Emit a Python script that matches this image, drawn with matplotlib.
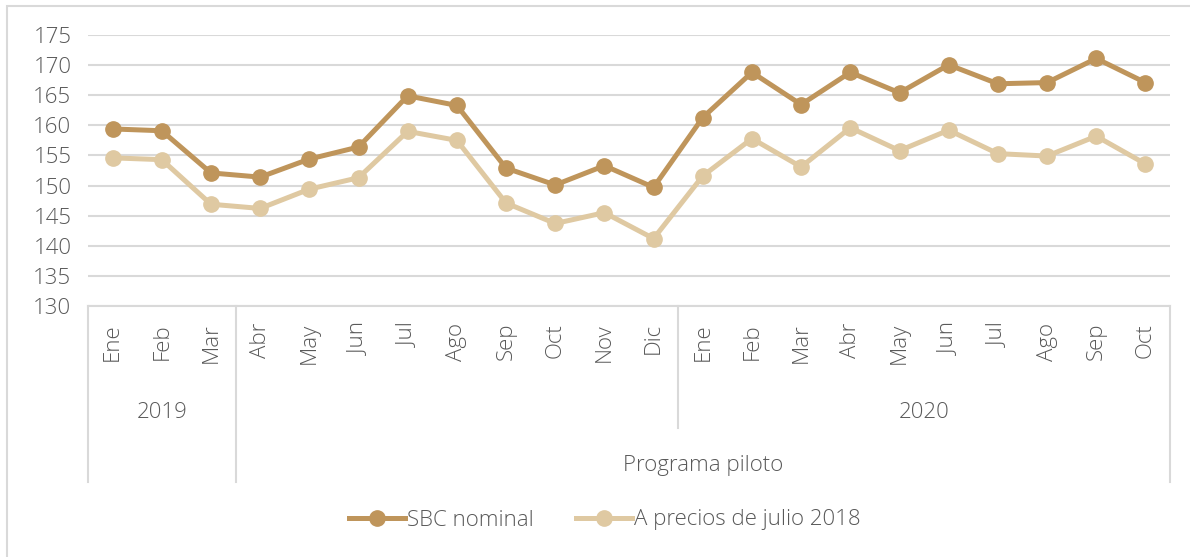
import matplotlib.pyplot as plt
import matplotlib.patches as mpatches
import numpy as np

plt.rcParams['font.family'] = ['Open Sans', 'DejaVu Sans']
plt.rcParams['font.weight'] = 'light'

meses = ['Ene', 'Feb', 'Mar', 'Abr', 'May', 'Jun', 'Jul', 'Ago', 'Sep', 'Oct', 'Nov', 'Dic',
         'Ene', 'Feb', 'Mar', 'Abr', 'May', 'Jun', 'Jul', 'Ago', 'Sep', 'Oct']
sbc_nominal = [159.4, 159.1, 152.1, 151.4, 154.4, 156.4, 164.9, 163.3, 152.9, 150.1, 153.3, 149.7,
               161.3, 168.8, 163.45, 168.8, 165.4, 170.05, 166.9, 167.1, 171.1, 167.1]
precios_2018 = [154.6, 154.3, 146.9, 146.2, 149.4, 151.3, 159.0, 157.5, 147.1, 143.7, 145.5, 141.2,
                151.6, 157.8, 153.1, 159.6, 155.8, 159.2, 155.3, 154.9, 158.2, 153.6]
years = [('2019', 0, 3), ('2020', 12, 22)]
programa = ('Programa piloto', 3, 22)

c_dark = '#BF955B'
c_light = '#DFC9A2'
c_grid = '#D9D9D9'
c_text = '#595959'
fs = 16

W, H = 1190, 557
fig = plt.figure(figsize=(W / 100, H / 100), dpi=100)
ax = fig.add_axes([88 / W, 1 - 306 / H, (1170 - 88) / W, (306 - 35) / H])

x = np.arange(len(meses))
ax.plot(x, sbc_nominal, color=c_dark, lw=3.6, marker='o', ms=11, label='SBC nominal', zorder=3)
ax.plot(x, precios_2018, color=c_light, lw=3.6, marker='o', ms=11, label='A precios de julio 2018', zorder=2)

ax.set_xlim(-0.5, len(meses) - 0.5)
ax.set_ylim(130, 175)
ax.set_yticks(np.arange(130, 176, 5))
ax.yaxis.grid(True, color=c_grid, lw=1.5)
ax.set_axisbelow(True)
for s in ['top', 'right', 'left']:
    ax.spines[s].set_visible(False)
ax.spines['bottom'].set_color(c_grid)
ax.spines['bottom'].set_linewidth(1.5)
ax.tick_params(axis='y', length=0, labelsize=fs, labelcolor=c_text, pad=12)
ax.set_xticks([])

# multi-level category axis
trans = ax.get_xaxis_transform()
px = 1 / (306 - 35)
for i, m in enumerate(meses):
    ax.text(i, -17 * px, m, rotation=90, ha='center', va='top', fontsize=fs, color=c_text, transform=trans)
for name, a, b in years:
    ax.text((a + b - 1) / 2, -(412 - 306) * px, name, ha='center', va='center', fontsize=fs,
            color=c_text, transform=trans)
name, a, b = programa
ax.text((a + b - 1) / 2, -(466 - 306) * px, name, ha='center', va='center', fontsize=fs,
        color=c_text, transform=trans)

for xs, depth in [(-0.5, 482), (2.5, 482), (11.5, 428), (21.5, 482)]:
    ax.plot([xs, xs], [0, -(depth - 306) * px], color=c_grid, lw=1.5, transform=trans, clip_on=False)

fig.legend(loc='center', bbox_to_anchor=(605 / W, 1 - 520 / H), ncol=2, frameon=False,
           fontsize=fs, labelcolor=c_text, handlelength=2.5, handletextpad=0.1, columnspacing=1.9)

fig.patches.append(mpatches.Rectangle((7 / W, -0.1), 1.2, 1 - 6 / H + 0.1, transform=fig.transFigure,
                                      fill=False, edgecolor=c_grid, lw=1.5))

fig.savefig('out.png', dpi=100)
